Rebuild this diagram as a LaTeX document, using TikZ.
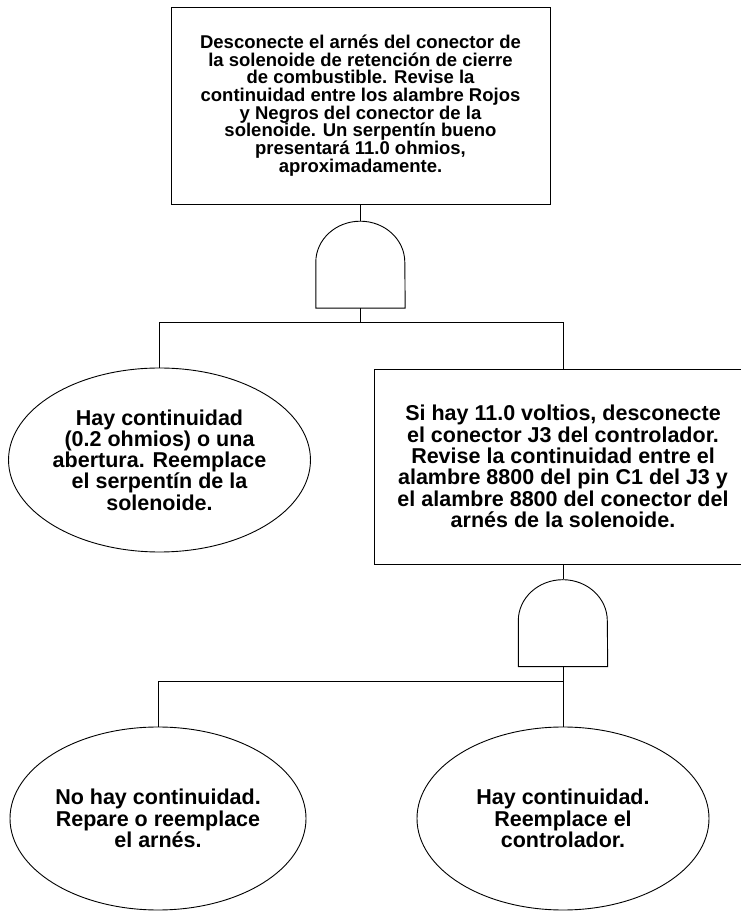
\documentclass[tikz,border=0pt]{standalone}
\usepackage{fontspec}
\setmainfont{Liberation Sans}
\usetikzlibrary{positioning,calc,shapes.geometric}
\tikzset{
    box/.style={draw, rectangle, line width=0.9pt, align=center, inner sep=0pt},
    oval/.style={draw, ellipse, line width=0.9pt, align=center, inner sep=0pt},
    andgate/.style={minimum width=89pt, minimum height=87pt, inner sep=0pt},
    wire/.style={line width=0.9pt},
    bigtxt/.style={font=\bfseries\fontsize{18.5}{17.7}\selectfont},
    midtxt/.style={font=\bfseries\fontsize{21.5}{21.3}\selectfont}
}

\begin{document}
\begin{tikzpicture}[x=1pt, y=1pt]
    % Page
    \fill[white] (0,0) rectangle (740,911);
    \useasboundingbox (0,0) rectangle (740,911);

    % Top check
    \node[box, bigtxt, minimum width=379pt, minimum height=197pt] (desc) at (360.5,805.5)
        {Desconecte el arnés del conector de\\la solenoide de retención de cierre\\de combustible. Revise la\\continuidad entre los alambre Rojos\\y Negros del conector de la\\solenoide. Un serpentín bueno\\presentará 11.0 ohmios,\\aproximadamente.};

    % First gate
    \node[andgate] (g1) at (360.5,646.5) {};
    \coordinate (j1) at (360.5,589);

    % Second level
    \node[oval, midtxt, minimum width=295pt, minimum height=184pt] (abert) at (159.5,451)
        {Hay continuidad\\(0.2 ohmios) o una\\abertura. Reemplace\\el serpentín de la\\solenoide.};
    \node[box, midtxt, minimum width=378pt, minimum height=195pt] (volt) at (563,444.5)
        {Si hay 11.0 voltios, desconecte\\el conector J3 del controlador.\\Revise la continuidad entre el\\alambre 8800 del pin C1 del J3 y\\el alambre 8800 del conector del\\arnés de la solenoide.};

    % Second gate
    \node[andgate] (g2) at (563,288) {};
    \coordinate (j2) at (563,230);

    % Bottom level
    \node[oval, midtxt, minimum width=296pt, minimum height=183pt] (noc) at (158,92.5)
        {No hay continuidad.\\Repare o reemplace\\el arnés.};
    \node[oval, midtxt, minimum width=292pt, minimum height=183pt] (hayc) at (563,92.5)
        {Hay continuidad.\\Reemplace el\\controlador.};

    % Gate outlines
    \foreach \g in {g1,g2}
        \draw[wire] (\g.south west) -- ++(0,46)
            arc[start angle=180, end angle=0, x radius=44.5, y radius=41]
            -- (\g.south east) -- cycle;

    % Connectors
    \draw[wire] (desc.south) -- (g1.north);
    \draw[wire] (g1.south) -- (j1);
    \draw[wire] (j1) -| (abert.north);
    \draw[wire] (j1) -| (volt.north);
    \draw[wire] (volt.south) -- (g2.north);
    \draw[wire] (g2.south) -- (j2);
    \draw[wire] (j2) -| (noc.north);
    \draw[wire] (j2) -- (hayc.north);
\end{tikzpicture}
\end{document}
